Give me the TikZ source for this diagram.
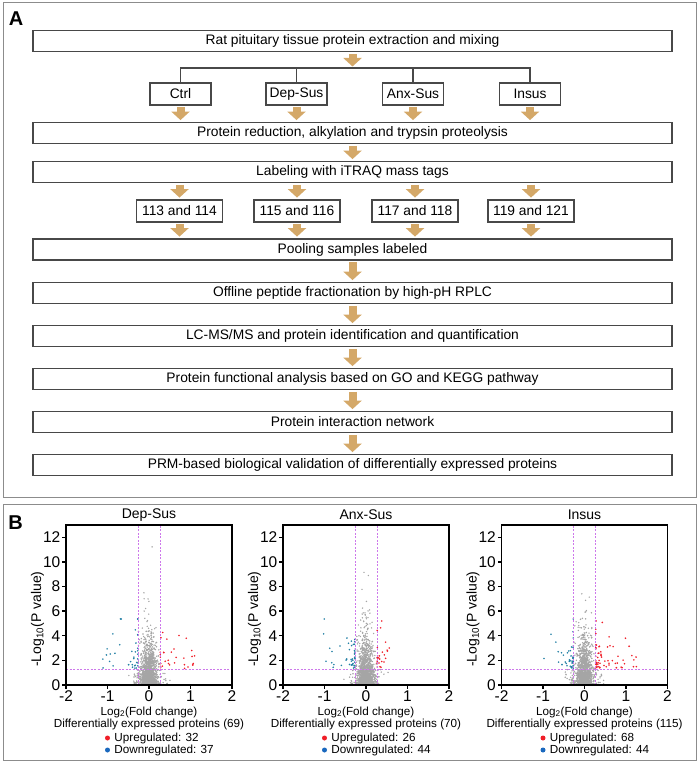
\documentclass[tikz,border=0pt]{standalone}
\usepackage{fontspec}
\setmainfont{Liberation Sans}
\usetikzlibrary{%
   arrows.meta,%
   positioning}

\definecolor{flowtan}{RGB}{212,168,104}
\definecolor{boxline}{RGB}{72,72,72}
\definecolor{framegray}{RGB}{140,140,140}
\definecolor{ptgray}{RGB}{165,165,165}
\definecolor{upred}{RGB}{240,30,40}
\definecolor{downteal}{RGB}{36,128,165}
\definecolor{downblue}{RGB}{26,104,190}
\definecolor{cutline}{RGB}{205,120,235}

\newcommand{\boxfont}{\fontsize{13.8}{16}\selectfont}
\newcommand{\tickfont}{\fontsize{15.5}{17}\selectfont}
\newcommand{\titfont}{\fontsize{14}{16}\selectfont}
\newcommand{\capfont}{\fontsize{11.7}{13}\selectfont}
\newcommand{\panelfont}{\fontsize{20}{22}\selectfont\bfseries}

\begin{document}
\begin{tikzpicture}[x=1pt,y=-1pt,node distance=43pt,>={Triangle[width=18pt,length=8.5pt]},
  every node/.style={inner sep=0pt},
  stepbox/.style={draw=boxline,line width=1.8pt,fill=white,minimum width=639pt,minimum height=21pt,font=\boxfont},
  grpbox/.style={stepbox,minimum width=61pt,minimum height=22pt},
  tagbox/.style={grpbox,minimum width=86pt},
  flow/.style={->,draw=flowtan,line width=8pt,shorten <=1.5pt,shorten >=1.5pt},
  link/.style={draw=boxline,line width=1.3pt},
  panel/.style={draw=framegray,line width=1pt},
  plotaxis/.style={line width=1.4pt},
  cutoff/.style={draw=cutline,line width=0.6pt,dash pattern=on 2pt off 1.5pt},
  legdot/.style={circle,minimum size=5pt}]
\useasboundingbox (0,0) rectangle (699,762);
\draw[panel] (3,3) rectangle (696,497);
\draw[panel] (3,504) rectangle (696,760);
\node[font=\panelfont] (pa) at (16,19) {A};
\node[font=\panelfont] (pb) at (15.5,522.5) {B};

\begin{scope}[on grid]
\node[stepbox] (s1) at (352.5,41) {Rat pituitary tissue protein extraction and mixing};
\node[stepbox,below=92pt of s1] (s2) {Protein reduction, alkylation and trypsin proteolysis};
\node[stepbox,below=39pt of s2] (s3) {Labeling with iTRAQ mass tags};
\node[stepbox,below=77.5pt of s3] (s4) {Pooling samples labeled};
\node[stepbox,below=43.5pt of s4] (s5) {Offline peptide fractionation by high-pH RPLC};
\node[stepbox,below=of s5] (s6) {LC-MS/MS and protein identification and quantification};
\node[stepbox,below=of s6] (s7) {Protein functional analysis based on GO and KEGG pathway};
\node[stepbox,below=of s7] (s8) {Protein interaction network};
\node[stepbox,below=of s8] (s9) {PRM-based biological validation of differentially expressed proteins};
\end{scope}

\node[grpbox] (g1) at (180.5,94) {Ctrl};
\node[grpbox] (g2) at (296.5,94) {Dep-Sus};
\node[grpbox] (g3) at (413,94) {Anx-Sus};
\node[grpbox] (g4) at (530,94) {Insus};
\node[tagbox] (t1) at (179.5,211) {113 and 114};
\node[tagbox] (t2) at (297,211) {115 and 116};
\node[tagbox] (t3) at (415,211) {117 and 118};
\node[tagbox] (t4) at (531,211) {119 and 121};

\coordinate (br) at (352.5,68);
\draw[link] (g1.north) |- (br) -| (g4.north);
\draw[link] (g2.north) -- (g2.north |- br);
\draw[link] (g3.north) -- (g3.north |- br);
\draw[flow] (s1) -- (br);
\foreach \i in {1,...,4} {
  \draw[flow] (g\i) -- (g\i |- s2.north);
  \draw[flow] (s3.south -| t\i) -- (t\i);
  \draw[flow] (t\i) -- (t\i |- s4.north);
}
\draw[flow] (s2) -- (s3);
\draw[flow] (s4) -- (s5);
\draw[flow] (s5) -- (s6);
\draw[flow] (s6) -- (s7);
\draw[flow] (s7) -- (s8);
\draw[flow] (s8) -- (s9);

\foreach \i/\cx/\nm/\up/\dn/\tot/\rx/\bx/\sd in {1/149/Dep-Sus/32/37/69/0.85/0.9/17,
    2/366/Anx-Sus/26/44/70/0.3/0.75/29, 3/584.5/Insus/68/44/115/1.0/0.75/43} {
\begin{scope}[shift={(\cx,685)},x=41.5pt,y=12.31pt]
  \begin{scope}
    \clip (-2,0) rectangle (2,13);
    \pgfmathsetseed{\sd}
    \foreach \k in {1,...,1500} {
      \pgfmathsetmacro\xx{0.15*(rnd+rnd+rnd+rnd-2)*(rnd<0.15 ? 2.2 : 1)}
      \pgfmathsetmacro\yy{-1.1*ln(max(rnd,0.00001))}
      \pgfmathsetmacro\yy{(abs(\xx)>0.263 && \yy>1.3) ? 1.28*rnd : \yy}
      \fill[ptgray] (\xx,\yy) circle (0.8pt);
    }
    \foreach \k in {1,...,\up} {
      \pgfmathsetmacro\xx{0.27+\rx*rnd^3}
      \pgfmathsetmacro\yy{1.35-1.2*ln(max(rnd,0.04))}
      \fill[upred] (\xx,\yy) circle (0.9pt);
    }
    \foreach \k in {1,...,\dn} {
      \pgfmathsetmacro\xx{-0.27-\bx*rnd^3}
      \pgfmathsetmacro\yy{1.35-1.25*ln(max(rnd,0.04))}
      \fill[downteal] (\xx,\yy) circle (0.9pt);
    }
  \end{scope}
  \draw[cutoff] (-0.263,0) -- (-0.263,13) (0.263,0) -- (0.263,13) (-2,1.301) -- (2,1.301);
  \draw[plotaxis] (-2,0) rectangle (2,13);
  \foreach \t in {0,2,...,12}
    \draw[plotaxis] (-2,\t) -- ([xshift=-4pt]-2,\t) node[anchor=east,font=\tickfont,xshift=-1pt] {\t};
  \foreach \t in {-2,...,2}
    \draw[plotaxis] (\t,0) -- ([yshift=-4pt]\t,0) node[anchor=north,font=\tickfont,yshift=-1pt] {\t};
  \node[font=\titfont] (ti\i) at ([yshift=10pt]0,13) {\nm};
  \node[font=\titfont,rotate=90] (yl\i) at ([xshift=-28.5pt]-2,5.35) {-Log\textsubscript{10}(P value)};
  \node[font=\capfont] (xl\i) at ([yshift=-27pt]0,0) {Log\textsubscript{2}(Fold change)};
  \node[font=\capfont] (de\i) at ([yshift=-39pt]0,0) {Differentially expressed proteins (\tot)};
  \node[legdot,fill=upred] (ud\i) at ([yshift=-53pt]-1.0,0) {};
  \node[font=\capfont,anchor=west] (ut\i) at ([xshift=4pt]ud\i.east) {Upregulated: \up};
  \node[legdot,fill=downblue] (dd\i) at ([yshift=-65pt]-1.0,0) {};
  \node[font=\capfont,anchor=west] (dt\i) at ([xshift=4pt]dd\i.east) {Downregulated: \dn};
\end{scope}
}
\end{tikzpicture}
\end{document}
